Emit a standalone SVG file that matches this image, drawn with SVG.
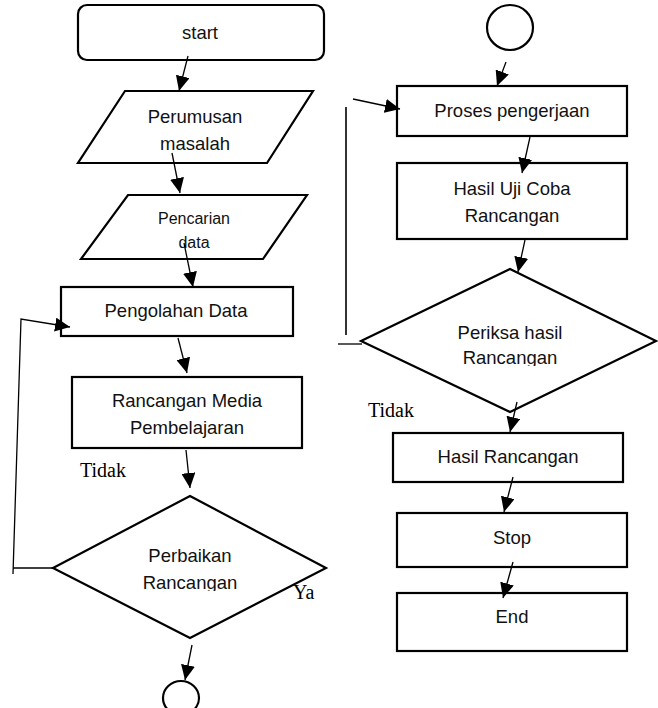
<svg xmlns="http://www.w3.org/2000/svg" width="658" height="708" viewBox="0 0 658 708">
<style>
.box{fill:#fff;stroke:#000;stroke-width:2.2}
.t{font-family:"Liberation Sans",Arial,sans-serif;font-size:18.5px;fill:#111;text-anchor:middle}
.ts{font-family:"Liberation Sans",Arial,sans-serif;font-size:16px;fill:#111;text-anchor:middle}
.lab{font-family:"Liberation Serif","Times New Roman",serif;font-size:20px;fill:#000}
.c{fill:none;stroke:#000;stroke-width:1.3}
.ca{fill:none;stroke:#000;stroke-width:1.3;marker-end:url(#ah)}
</style>
<defs>
<marker id="ah" markerUnits="userSpaceOnUse" markerWidth="15" markerHeight="14" refX="15" refY="7" orient="auto">
<path d="M0,0 L15,7 L0,14 z" fill="#000"/>
</marker>
<clipPath id="clipL"><rect x="0" y="0" width="658" height="591"/></clipPath>
<clipPath id="clipR"><rect x="0" y="0" width="658" height="366"/></clipPath>
<clipPath id="clipP"><rect x="0" y="0" width="658" height="438"/></clipPath>
</defs>

<g id="start">
<rect class="box" x="78" y="5" width="246" height="55" rx="9"/>
<text class="t" x="200" y="39">start</text>
</g>
<g id="perumusan">
<polygon class="box" points="125,91 313,91 267,163 78,163"/>
<text class="t" x="195" y="123">Perumusan</text>
<text class="t" x="195" y="150">masalah</text>
</g>
<g id="pencarian">
<polygon class="box" points="128,195 307,195 263,259 81,259"/>
<text class="ts" x="194" y="224">Pencarian</text>
<text class="ts" x="194" y="248">data</text>
</g>
<g id="pengolahan">
<rect class="box" x="61" y="287" width="232" height="49"/>
<text class="t" x="176" y="317">Pengolahan Data</text>
</g>
<g id="rancangan-media">
<rect class="box" x="72" y="377" width="230" height="71"/>
<text class="t" x="187" y="407">Rancangan Media</text>
<text class="t" x="187" y="434" clip-path="url(#clipP)">Pembelajaran</text>
</g>
<g id="perbaikan">
<polygon class="box" points="190,496 326,568 190,638 53,568"/>
<text class="t" x="190" y="562">Perbaikan</text>
<text class="t" x="190" y="589" clip-path="url(#clipL)">Rancangan</text>
</g>
<g id="connector-left">
<ellipse class="box" cx="181" cy="698" rx="18" ry="17"/>
</g>

<g id="connector-right">
<ellipse class="box" cx="510" cy="27.5" rx="23" ry="22.5"/>
</g>
<g id="proses">
<rect class="box" x="397" y="86" width="230" height="50"/>
<text class="t" x="512" y="117">Proses pengerjaan</text>
</g>
<g id="hasil-uji">
<rect class="box" x="397" y="163" width="230" height="76"/>
<text class="t" x="512" y="195">Hasil Uji Coba</text>
<text class="t" x="512" y="222">Rancangan</text>
</g>
<g id="periksa">
<polygon class="box" points="510,269 656,341 510,412 361,341"/>
<text class="t" x="510" y="339">Periksa hasil</text>
<text class="t" x="510" y="364" clip-path="url(#clipR)">Rancangan</text>
</g>
<g id="hasil-rancangan">
<rect class="box" x="393" y="433" width="230" height="49"/>
<text class="t" x="508" y="463">Hasil Rancangan</text>
</g>
<g id="stop">
<rect class="box" x="397" y="513" width="230" height="54"/>
<text class="t" x="512" y="544">Stop</text>
</g>
<g id="end">
<rect class="box" x="397" y="593" width="230" height="58"/>
<text class="t" x="512" y="623">End</text>
</g>

<g id="labels">
<text class="lab" x="80" y="477">Tidak</text>
<text class="lab" x="293" y="599">Ya</text>
<text class="lab" x="368" y="417">Tidak</text>
</g>

<g id="connectors">
<line class="ca" x1="188" y1="56" x2="179" y2="91"/>
<line class="ca" x1="172" y1="153" x2="180" y2="193"/>
<line class="ca" x1="184" y1="243" x2="193" y2="287"/>
<line class="c" x1="53" y1="568" x2="13" y2="568"/>
<path class="ca" d="M13,574 L21,319 L70,327"/>
<line class="ca" x1="178" y1="338" x2="187" y2="373"/>
<line class="ca" x1="186" y1="450" x2="190" y2="488"/>
<line class="ca" x1="192" y1="645" x2="185" y2="680"/>
<line class="ca" x1="506" y1="62" x2="497" y2="86"/>
<line class="c" x1="338" y1="344" x2="362" y2="344"/>
<line class="c" x1="346" y1="335" x2="346" y2="107" style="stroke-width:1.6"/>
<line class="ca" x1="353" y1="99" x2="400" y2="109"/>
<line class="ca" x1="530" y1="137" x2="522" y2="173"/>
<line class="ca" x1="525" y1="240" x2="518" y2="272"/>
<line class="ca" x1="517" y1="402" x2="510" y2="432"/>
<line class="ca" x1="513" y1="477" x2="504" y2="512"/>
<line class="ca" x1="513" y1="562" x2="503" y2="598"/>
</g>
</svg>
